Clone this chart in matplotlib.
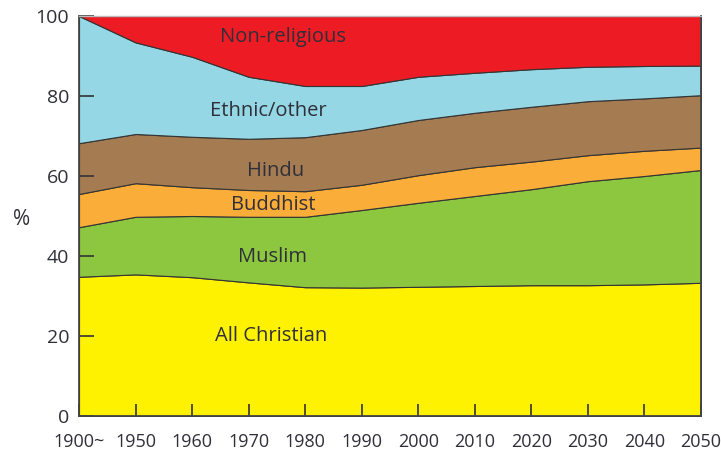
import matplotlib
matplotlib.use("Agg")
import matplotlib.pyplot as plt
import numpy as np

years = ["1900~", "1950", "1960", "1970", "1980", "1990", "2000", "2010", "2020", "2030", "2040", "2050"]
christian = [34.8, 35.4, 34.7, 33.4, 32.2, 32.1, 32.3, 32.5, 32.7, 32.7, 32.9, 33.3]
muslim = [12.4, 14.4, 15.3, 16.4, 17.6, 19.4, 21.0, 22.5, 24.0, 26.0, 27.1, 28.2]
buddhist = [8.3, 8.4, 7.2, 6.7, 6.4, 6.3, 6.9, 7.2, 6.9, 6.5, 6.3, 5.6]
hindu = [12.7, 12.3, 12.6, 12.8, 13.5, 13.7, 13.8, 13.6, 13.7, 13.5, 13.1, 13.1]
ethnic = [31.8, 22.9, 20.0, 15.5, 12.8, 11.0, 10.8, 10.0, 9.4, 8.6, 8.1, 7.4]
nonrel = [0.0, 6.6, 10.2, 15.2, 17.5, 17.5, 15.2, 14.2, 13.3, 12.7, 12.5, 12.4]

labels = ["All Christian", "Muslim", "Buddhist", "Hindu", "Ethnic/other", "Non-religious"]
colors = ["#FFF200", "#8DC63F", "#FBAD3A", "#A57B52", "#95D7E5", "#ED1C24"]
yticks = [0, 20, 40, 60, 80, 100]

plt.rcParams['font.family'] = ['Open Sans', 'DejaVu Sans']
txtc = "#2F2F3A"

fig = plt.figure(figsize=(7.21, 4.54), dpi=100)
ax = fig.add_axes([0.1096, 0.0837, 0.8627, 0.8811])
x = np.arange(len(years))
polys = ax.stackplot(x, christian, muslim, buddhist, hindu, ethnic, nonrel,
                     colors=colors, edgecolor="#333333", linewidth=0.8)

ax.set_xlim(0, len(years) - 1)
ax.set_ylim(0, 100)
ax.set_xticks(x)
ax.set_xticklabels(years)
ax.set_yticks(yticks)
ax.set_yticklabels([str(v) for v in yticks])
ax.tick_params(axis='y', direction='in', length=11, width=1.2, color="#333333",
               labelsize=14, labelcolor=txtc, pad=7)
ax.tick_params(axis='x', direction='in', length=8.5, width=1.2, color="#333333",
               labelsize=13, labelcolor=txtc, pad=12)
for s in ["left", "bottom", "right"]:
    ax.spines[s].set_color("#444444")
    ax.spines[s].set_linewidth(1.3)
ax.spines["top"].set_color("#BBBBBB")
ax.spines["top"].set_linewidth(1.0)

ax.set_ylabel("%", rotation=0, fontsize=15, color=txtc, va="center", ha="center")
ax.yaxis.set_label_coords(-0.092, 0.49)

label_pos = [(3.4, 20), (3.43, 39.75), (3.43, 52.75), (3.47, 61.25), (3.35, 76.25), (3.6, 94.75)]
for lab, (lx, ly) in zip(labels, label_pos):
    ax.text(lx, ly, lab, ha="center", va="center", fontsize=14.5, color=txtc)

fig.savefig("out.png", dpi=100)
